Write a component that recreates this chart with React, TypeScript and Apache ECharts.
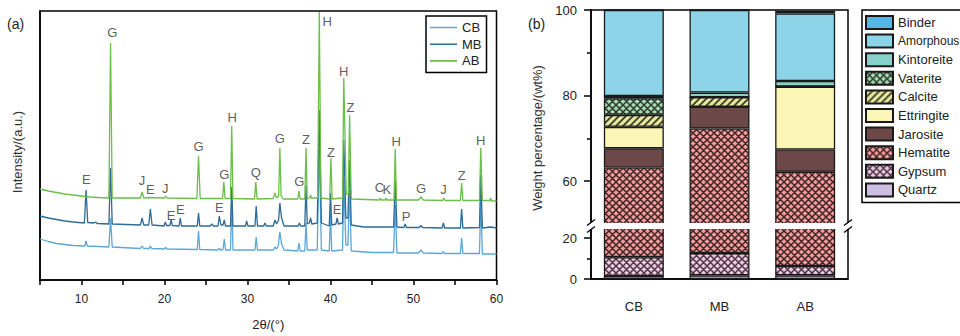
import React, { useEffect, useRef } from 'react';
import * as echarts from 'echarts';

// ---------- Panel (a): XRD patterns, [2θ, intensity (a.u.)] ----------
const xrdCB: [number, number][] = [
  [5, 41], [6, 38.5], [7, 36.5], [8, 35.5], [9, 34.5], [10.4, 34], [10.55, 39], [10.7, 34], [13.3, 33], [13.5, 62], [13.7, 33],
  [17.1, 31.5], [17.3, 34], [17.5, 31.5], [18.15, 31.5], [18.3, 34], [18.45, 31.5], [20.0, 31], [20.15, 32.5], [20.3, 31],
  [23.95, 30.5], [24.1, 49], [24.25, 30.5], [26.45, 30], [26.6, 32], [26.75, 30], [27.05, 30.5], [27.2, 41], [27.35, 30],
  [27.95, 30], [28.1, 80], [28.25, 30], [30.9, 30], [31.05, 43], [31.2, 30], [33.1, 30], [33.3, 33], [33.5, 31], [33.7, 34],
  [33.9, 48], [34.1, 36], [34.4, 30], [36.05, 29], [36.2, 37], [36.35, 29], [36.9, 29], [37.05, 57], [37.2, 30], [38.4, 30],
  [38.65, 130], [38.9, 30], [39.85, 29], [40.0, 67], [40.15, 29], [41.45, 30], [41.6, 100], [41.85, 35], [42.1, 35], [42.3, 90],
  [42.5, 29], [45, 27.5], [47.6, 27.5], [47.8, 75], [48.0, 27], [50.6, 27], [50.9, 30], [51.2, 27], [53.45, 26.5], [53.6, 28.5],
  [53.75, 26.5], [55.65, 26.5], [55.8, 42], [55.95, 26.5], [57.95, 26.5], [58.1, 80], [58.3, 26], [60, 26],
];
const xrdMB: [number, number][] = [
  [5, 64], [6, 62], [7, 60.5], [8, 59], [9, 58], [10.35, 57], [10.55, 90], [10.75, 57.5], [11.5, 57], [11.7, 58], [11.9, 56.5],
  [13.3, 56], [13.5, 112], [13.7, 56], [17.1, 55], [17.3, 62], [17.5, 55], [18.1, 55], [18.3, 71], [18.5, 55], [19.95, 54],
  [20.1, 58], [20.25, 54.5], [20.65, 54.5], [20.8, 60], [20.95, 54.5], [21.75, 54], [21.9, 62], [22.05, 54], [23.95, 54],
  [24.1, 67], [24.25, 54], [25.5, 54], [25.7, 56], [25.9, 54], [26.45, 54], [26.6, 64], [26.8, 55], [27.05, 55], [27.2, 60],
  [27.35, 54], [27.95, 54], [28.1, 93], [28.25, 54], [29.75, 54], [29.9, 59], [30.05, 54], [30.9, 54], [31.05, 74], [31.2, 54],
  [31.95, 54], [32.1, 57], [32.25, 54], [33.1, 54], [33.3, 60], [33.5, 56], [33.75, 60], [33.9, 77], [34.1, 62], [34.4, 54],
  [36.1, 54], [36.25, 57], [36.4, 54], [36.9, 54], [37.05, 95], [37.2, 56], [37.45, 57], [37.6, 62], [37.75, 56], [38.4, 57],
  [38.65, 170], [38.9, 57], [39.85, 54], [40.0, 87], [40.15, 55], [40.65, 56], [40.8, 62], [40.95, 56], [41.45, 57], [41.6, 140],
  [41.85, 62], [42.1, 62], [42.3, 120], [42.5, 55], [44, 53], [47.6, 53], [47.8, 100], [48.0, 53], [48.85, 52.5], [49.0, 56],
  [49.15, 52.5], [50.7, 52.5], [50.9, 54.5], [51.1, 52.5], [53.45, 52], [53.6, 57], [53.75, 52], [55.65, 52], [55.8, 71],
  [55.95, 52], [57.95, 52.5], [58.1, 105], [58.3, 52], [59.3, 53], [60, 52],
];
const xrdAB: [number, number][] = [
  [5, 91], [6, 89], [7, 87.5], [8, 86], [9, 85], [10, 84], [11, 83], [12, 82.5], [13.3, 82], [13.5, 237], [13.7, 82],
  [15, 82], [17.1, 82], [17.3, 88], [17.5, 82], [18.3, 82.5], [20.0, 82], [20.15, 84], [20.3, 82], [23.9, 81.5], [24.1, 124],
  [24.3, 81.5], [27.0, 81.5], [27.15, 98], [27.3, 81.5], [27.95, 81.5], [28.1, 154], [28.25, 81.5], [30.85, 81], [31.0, 98],
  [31.15, 81], [33.1, 81.5], [33.3, 87], [33.5, 82], [33.75, 84], [33.9, 132], [34.05, 84], [34.3, 81], [36.05, 81], [36.2, 89],
  [36.35, 81], [36.9, 81], [37.05, 132], [37.2, 81], [37.5, 82], [37.6, 85], [37.7, 82], [38.45, 82], [38.65, 268], [38.85, 82],
  [39.9, 81], [40.05, 122], [40.2, 81], [41.45, 82], [41.6, 202], [41.9, 86], [42.15, 86], [42.3, 165], [42.5, 81], [45.9, 80],
  [46.0, 82], [46.1, 80], [46.6, 80], [46.7, 82], [46.8, 80], [47.65, 80], [47.8, 131], [47.95, 80], [50.6, 80], [50.9, 83],
  [51.2, 80], [53.5, 79.5], [53.65, 82], [53.8, 79.5], [55.65, 79.5], [55.8, 97], [55.95, 79.5], [57.95, 79.5], [58.1, 132],
  [58.3, 79.5], [59.2, 79.5], [59.3, 82], [59.4, 79], [60, 79],
];
const peakLabelText = ['G', 'H', 'H', 'Z', 'H', 'G', 'G', 'Z', 'Z', 'H', 'H', 'Q', 'G', 'E', 'J', 'E', 'J', 'E', 'E', 'E', 'G', 'E', 'C', 'K', 'P', 'G', 'J', 'Z'];
const peakLabelTheta = [13.7, 39.6, 41.6, 42.4, 28.15, 24.1, 33.9, 37.05, 40.07, 47.9, 58.1, 31.0, 27.2, 10.57, 17.3, 18.3, 20.1, 20.8, 21.9, 26.6, 36.25, 40.8, 45.9, 46.8, 49.1, 50.9, 53.6, 55.8];
const peakLabelIntensity = [248, 259, 209, 173, 163, 134, 142, 141, 128, 139, 140, 108, 106, 101, 100, 91, 92, 65, 71, 73, 99, 71, 93, 91, 64, 92, 91, 105];

// ---------- Panel (b): phase composition (wt%) for [CB, MB, AB] ----------
const samples = ['CB', 'MB', 'AB'];
const minerals = ['Quartz', 'Gypsum', 'Hematite', 'Jarosite', 'Ettringite', 'Calcite', 'Vaterite', 'Kintoreite', 'Amorphous', 'Binder'];
const quartz = [1.5, 1.8, 1.8];
const gypsum = [9.2, 10.9, 4.6];
const hematite = [52.5, 59.6, 55.8];
const jarosite = [4.5, 5.1, 5.2];
const ettringite = [5.0, 0, 14.7];
const calcite = [2.8, 2.2, 0];
const vaterite = [3.9, 0, 0];
const kintoreite = [0.5, 1.1, 1.3];
const amorphous = [20.1, 19.3, 15.8];
const binder = [0, 0, 0.6];
const upperTicks = [60, 80, 100];
const upperMinorTicks = [70, 90];
const lowerTicks = [0, 20];
const lowerMinorTicks = [10];

const FONT = '"Liberation Sans", Arial, sans-serif';
const LINE_ICON = 'path://M0,0h0.01v0.01h-0.01z M0,5.7h27v1.6h-27z M26.99,12.99h0.01v0.01h-0.01z';

function hatch(bg: string, fg: string, mode: 'cross' | 'diag') {
  const s = 7;
  const c = document.createElement('canvas');
  c.width = s;
  c.height = s;
  const ctx = c.getContext('2d')!;
  ctx.fillStyle = bg;
  ctx.fillRect(0, 0, s, s);
  ctx.strokeStyle = fg;
  ctx.lineWidth = mode === 'cross' ? 1.5 : 1.7;
  ctx.beginPath();
  ctx.moveTo(-1, s + 1); ctx.lineTo(s + 1, -1);
  ctx.moveTo(-1, 1); ctx.lineTo(1, -1);
  ctx.moveTo(s - 1, s + 1); ctx.lineTo(s + 1, s - 1);
  if (mode === 'cross') {
    ctx.moveTo(-1, -1); ctx.lineTo(s + 1, s + 1);
    ctx.moveTo(-1, s - 1); ctx.lineTo(1, s + 1);
    ctx.moveTo(s - 1, -1); ctx.lineTo(s + 1, 1);
  }
  ctx.stroke();
  return { image: c, repeat: 'repeat', imageWidth: s, imageHeight: s };
}

export default function App() {
  const ref = useRef<HTMLDivElement>(null);
  useEffect(() => {
    document.body.style.margin = '0';
    if (!ref.current) return;
    const chart = echarts.init(ref.current, null, { renderer: 'svg' });

    const values = [quartz, gypsum, hematite, jarosite, ettringite, calcite, vaterite, kintoreite, amorphous, binder];
    const fills: any[] = [
      '#cdbfe2',
      hatch('#f0c8e0', '#4d3848', 'cross'),
      hatch('#f59b9b', '#3e2626', 'cross'),
      '#6d4848',
      '#fcf6b6',
      hatch('#e4e69c', '#3a3a2a', 'diag'),
      hatch('#a5dbae', '#2e3a30', 'cross'),
      '#86d1c9',
      '#8dd4e8',
      '#55b6e6',
    ];

    const barSeries: any[] = [];
    [1, 3].forEach((yIdx, g) => {
      minerals.forEach((m, i) => {
        barSeries.push({
          type: 'bar',
          name: m,
          xAxisIndex: g + 1,
          yAxisIndex: yIdx,
          stack: 'stack' + g,
          data: values[i],
          barWidth: '70%',
          clip: true,
          silent: true,
          itemStyle: { color: fills[i], borderColor: '#1a1a1a', borderWidth: 1.3 },
        });
      });
    });

    const lineColors: Record<string, string> = { CB: '#5ba8d8', MB: '#2d6b98', AB: '#6cbf48' };
    const lineSeries = [
      ['CB', xrdCB],
      ['MB', xrdMB],
      ['AB', xrdAB],
    ].map(([name, data]: any) => ({
      type: 'line',
      name,
      xAxisIndex: 0,
      yAxisIndex: 0,
      data,
      symbol: 'none',
      silent: true,
      lineStyle: { color: lineColors[name], width: 1.3 },
      itemStyle: { color: lineColors[name] },
    }));

    const labelData = peakLabelText.map((t, i) => [peakLabelTheta[i], peakLabelIntensity[i], t]);

    const axisLineStyle = { color: '#000', width: 1.5 };
    const tickLabel = { fontSize: 13, color: '#222', fontFamily: FONT };

    chart.setOption({
      animation: false,
      textStyle: { fontFamily: FONT },
      grid: [
        { left: 40, right: 463.5, top: 11, bottom: 56, show: true, borderColor: '#000', borderWidth: 1.5 },
        { left: 591, right: 112, top: 10, height: 214, show: true, borderColor: '#000', borderWidth: 1.5 },
        { left: 591, right: 112, top: 228, height: 51, show: true, borderColor: '#000', borderWidth: 1.5 },
      ],
      xAxis: [
        {
          type: 'value', gridIndex: 0, min: 5, max: 60, interval: 5,
          axisLine: { lineStyle: axisLineStyle },
          axisTick: { length: 5, lineStyle: axisLineStyle },
          axisLabel: { ...tickLabel, fontSize: 12, margin: 13, formatter: (v: number) => (v % 10 === 0 ? String(v) : '') },
          splitLine: { show: false },
          name: '2θ/(°)', nameLocation: 'middle', nameGap: 38,
          nameTextStyle: { fontSize: 13, color: '#222', fontFamily: FONT },
        },
        {
          type: 'category', gridIndex: 1, data: samples,
          axisLine: { show: false }, axisTick: { show: false }, axisLabel: { show: false },
        },
        {
          type: 'category', gridIndex: 2, data: samples,
          axisLine: { lineStyle: axisLineStyle },
          axisTick: { length: 6, lineStyle: axisLineStyle },
          axisLabel: { ...tickLabel, margin: 21 },
        },
      ],
      yAxis: [
        {
          type: 'value', gridIndex: 0, min: 0, max: 269,
          axisLine: { show: true, lineStyle: axisLineStyle },
          axisTick: { show: false }, axisLabel: { show: false }, splitLine: { show: false },
        },
        {
          type: 'value', gridIndex: 1, min: 50, max: 100, position: 'left',
          axisLine: { show: true, lineStyle: axisLineStyle },
          axisTick: { show: true, length: 7, lineStyle: axisLineStyle, customValues: upperTicks },
          axisLabel: { ...tickLabel, margin: 14, customValues: upperTicks },
          splitLine: { show: false },
        },
        {
          type: 'value', gridIndex: 1, min: 50, max: 100, position: 'left',
          axisLine: { show: false },
          axisTick: { show: true, length: 4, lineStyle: axisLineStyle, customValues: upperMinorTicks },
          axisLabel: { show: false }, splitLine: { show: false },
        },
        {
          type: 'value', gridIndex: 2, min: 0, max: 25, position: 'left',
          axisLine: { show: true, lineStyle: axisLineStyle },
          axisTick: { show: true, length: 7, lineStyle: axisLineStyle, customValues: lowerTicks },
          axisLabel: { ...tickLabel, margin: 14, customValues: lowerTicks },
          splitLine: { show: false },
        },
        {
          type: 'value', gridIndex: 2, min: 0, max: 25, position: 'left',
          axisLine: { show: false },
          axisTick: { show: true, length: 4, lineStyle: axisLineStyle, customValues: lowerMinorTicks },
          axisLabel: { show: false }, splitLine: { show: false },
        },
      ],
      legend: [
        {
          data: ['CB', 'MB', 'AB'], orient: 'vertical', left: 426, top: 16, icon: LINE_ICON,
          padding: [5, 5, 5, 4], itemWidth: 27, itemHeight: 13, itemGap: 3.7,
          borderColor: '#000', borderWidth: 1.5, selectedMode: false,
          textStyle: { fontSize: 13, color: '#222', fontFamily: FONT },
        },
        {
          data: ['Binder', 'Amorphous', 'Kintoreite', 'Vaterite', 'Calcite', 'Ettringite', 'Jarosite', 'Hematite', 'Gypsum', 'Quartz'],
          orient: 'vertical', left: 862, top: 10, icon: 'rect',
          padding: [5, 5, 5, 3], itemWidth: 27, itemHeight: 13, itemGap: 3.6,
          borderColor: '#000', borderWidth: 1.5, selectedMode: false,
          formatter: (name: string) => (name === 'Amorphous' ? '{s|Amorphous}' : name),
          textStyle: {
            fontSize: 13, color: '#222', fontFamily: FONT,
            rich: { s: { fontSize: 12, color: '#222', fontFamily: FONT } },
          },
        },
      ],
      graphic: [
        { type: 'text', left: 7, top: 17, style: { text: '(a)', fontSize: 14, fill: '#222', fontFamily: FONT } },
        { type: 'text', left: 528, top: 17, style: { text: '(b)', fontSize: 14, fill: '#222', fontFamily: FONT } },
        {
          type: 'text', x: 17, y: 152, rotation: Math.PI / 2,
          style: { text: 'Intensity/(a.u.)', fontSize: 13, fill: '#333', fontFamily: FONT, align: 'center', verticalAlign: 'middle' },
        },
        {
          type: 'text', x: 537, y: 138, rotation: Math.PI / 2,
          style: { text: 'Weight percentage/(wt%)', fontSize: 13, fill: '#333', fontFamily: FONT, align: 'center', verticalAlign: 'middle' },
        },
        { type: 'rect', z: 100, shape: { x: 584, y: 223, width: 272, height: 6 }, style: { fill: '#fff' } },
        { type: 'line', z: 101, shape: { x1: 587, y1: 225.5, x2: 595, y2: 219.5 }, style: { stroke: '#000', lineWidth: 1.3 } },
        { type: 'line', z: 101, shape: { x1: 587, y1: 232.5, x2: 595, y2: 226.5 }, style: { stroke: '#000', lineWidth: 1.3 } },
        { type: 'line', z: 101, shape: { x1: 844, y1: 225.5, x2: 852, y2: 219.5 }, style: { stroke: '#000', lineWidth: 1.3 } },
        { type: 'line', z: 101, shape: { x1: 844, y1: 232.5, x2: 852, y2: 226.5 }, style: { stroke: '#000', lineWidth: 1.3 } },
      ],
      series: [
        ...lineSeries,
        {
          type: 'scatter', name: 'peaks', xAxisIndex: 0, yAxisIndex: 0, data: labelData,
          symbolSize: 1, itemStyle: { color: 'rgba(0,0,0,0)' }, silent: true, z: 5,
          label: {
            show: true, position: 'inside', formatter: (p: any) => p.data[2],
            fontSize: 13, color: '#333', fontFamily: FONT,
          },
        },
        ...barSeries,
      ],
    });
    return () => chart.dispose();
  }, []);
  return <div ref={ref} style={{ width: 960, height: 336 }} />;
}
